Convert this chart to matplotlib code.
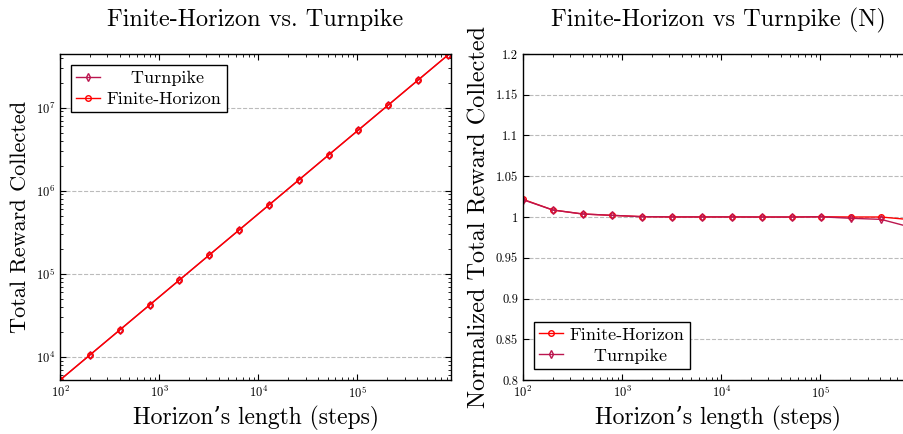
import numpy as np
import matplotlib
matplotlib.use("Agg")
import matplotlib.pyplot as plt
from matplotlib.ticker import FormatStrFormatter, MultipleLocator

plt.rcParams['font.family'] = ['cmr10', 'DejaVu Serif']
plt.rcParams['mathtext.fontset'] = 'cm'
plt.rcParams['axes.formatter.use_mathtext'] = True
plt.rcParams['xtick.direction'] = 'in'
plt.rcParams['ytick.direction'] = 'in'
plt.rcParams['xtick.top'] = True
plt.rcParams['ytick.right'] = True
plt.rcParams['xtick.major.size'] = 4
plt.rcParams['ytick.major.size'] = 4
plt.rcParams['xtick.minor.size'] = 2
plt.rcParams['ytick.minor.size'] = 2
plt.rcParams['xtick.minor.visible'] = True

# horizon lengths (steps)
horizon = [100, 200, 400, 800, 1600, 3200, 6400, 12800, 25600,
           51200, 102400, 204800, 409600, 819200]

# total reward collected
reward_turnpike = [5.25e3, 1.05e4, 2.1e4, 4.2e4, 8.4e4, 1.68e5, 3.36e5, 6.72e5,
                   1.344e6, 2.69e6, 5.38e6, 1.075e7, 2.15e7, 4.3e7]
reward_finite = [5.25e3, 1.05e4, 2.1e4, 4.2e4, 8.4e4, 1.68e5, 3.36e5, 6.72e5,
                 1.344e6, 2.69e6, 5.38e6, 1.075e7, 2.15e7, 4.3e7]

# normalized reward
norm_finite = [1.0217, 1.0086, 1.0037, 1.0020, 1.0004, 1.0001, 1.0001, 1.0001,
               1.0, 1.0, 1.0003, 1.0, 1.0, 0.9967]
norm_turnpike = [1.0212, 1.0086, 1.0037, 1.0020, 1.0004, 1.0001, 1.0001, 1.0001,
                 1.0, 1.0, 1.0002, 0.9984, 0.9971, 0.9874]

c_turn = '#bb164f'
c_fin = '#ff0000'

# legend label for turnpike is padded so it sits centred like the original
lbl_turn = '    Turnpike'
lbl_fin = 'Finite-Horizon'

fig = plt.figure(figsize=(9.04, 4.34), dpi=100)
ax1 = fig.add_axes([0.0664, 0.1244, 0.4325, 0.7512])
ax2 = fig.add_axes([0.5785, 0.1244, 0.4325, 0.7512])

leg_kw = dict(fancybox=False, edgecolor='black', framealpha=1, fontsize=13,
              borderaxespad=0.6, handlelength=1.3, handletextpad=0.4,
              labelspacing=0.3, borderpad=0.3)

# left: total reward
ax1.loglog(horizon, reward_turnpike, color=c_turn, marker='d', ms=4,
           mfc='none', mec=c_turn, lw=1, label=lbl_turn)
ax1.loglog(horizon, reward_finite, color=c_fin, marker='o', ms=4,
           mfc='none', mec=c_fin, mew=1, lw=1, label=lbl_fin)
ax1.set_xlim(100, 8.8e5)
ax1.set_ylim(min(reward_finite), max(reward_finite) * 1.03)
ax1.yaxis.grid(True, which='major', ls='--', color='#bbbbbb', lw=0.8)
ax1.set_title('Finite-Horizon vs. Turnpike', fontsize=17.5, pad=20)
ax1.set_xlabel("Horizon’s length (steps)", fontsize=17)
ax1.set_ylabel('Total Reward Collected', fontsize=16)
ax1.legend(loc='upper left', **leg_kw)

# right: normalized reward
ax2.semilogx(horizon, norm_finite, color=c_fin, marker='o', ms=4,
             mfc='none', mec=c_fin, mew=1, lw=1, label=lbl_fin)
ax2.semilogx(horizon, norm_turnpike, color=c_turn, marker='d', ms=4,
             mfc='none', mec=c_turn, lw=1, label=lbl_turn)
ax2.set_xlim(100, 8.8e5)
ax2.set_ylim(0.8, 1.2)
ax2.yaxis.set_major_locator(MultipleLocator(0.05))
ax2.yaxis.set_major_formatter(FormatStrFormatter('%g'))
ax2.yaxis.grid(True, which='major', ls='--', color='#bbbbbb', lw=0.8)
ax2.set_title('Finite-Horizon vs Turnpike (N)', fontsize=17.5, pad=20)
ax2.set_xlabel("Horizon’s length (steps)", fontsize=17)
ax2.set_ylabel('Normalized Total Reward Collected', fontsize=17.5)
ax2.legend(loc='lower left', **leg_kw)

for ax in (ax1, ax2):
    ax.tick_params(labelsize=9)
    for s in ax.spines.values():
        s.set_linewidth(1)

fig.savefig('out.png', dpi=100)
